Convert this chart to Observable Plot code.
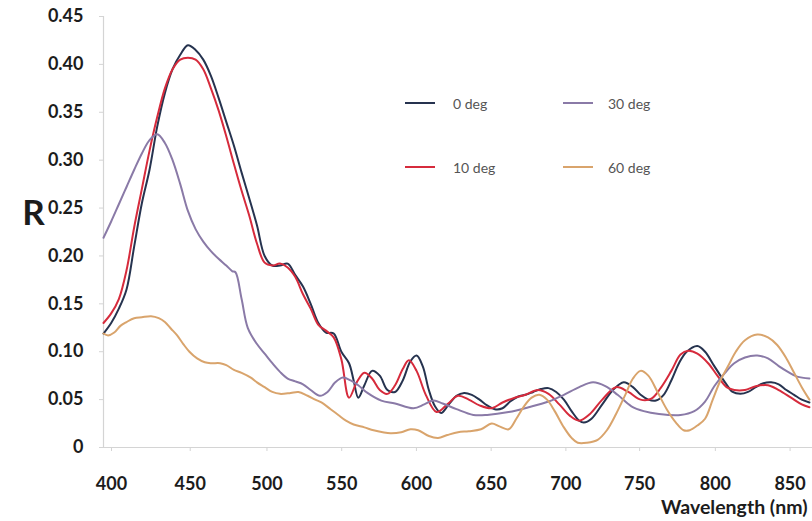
<!DOCTYPE html>
<html>
<head>
<meta charset="utf-8">
<script src="https://cdn.jsdelivr.net/npm/d3@7"></script>
<script src="https://cdn.jsdelivr.net/npm/@observablehq/plot@0.6"></script>
<style>
  html, body { margin: 0; padding: 0; background: #fff; }
  #wrap { position: relative; width: 812px; height: 521px; font-family: Lato, "Open Sans", sans-serif; }
  .leg { position: absolute; display: flex; align-items: center; font-size: 14px; color: #555; white-space: nowrap; }
  .leg i { display: inline-block; width: 30px; height: 2.4px; }
</style>
</head>
<body>
<div id="wrap"></div>
<script>
// ---- data ----
const seriesNames = ["0 deg", "10 deg", "30 deg", "60 deg"];
const seriesColors = ["#26334f", "#d62b3c", "#8a7aa7", "#d9a46c"];

const xTicks = [400, 450, 500, 550, 600, 650, 700, 750, 800, 850];
const yTicks = [0, 0.05, 0.10, 0.15, 0.20, 0.25, 0.30, 0.35, 0.40, 0.45];

const deg0_nm = [400,405,410,415,420,425,430,435,440,445,450,455,460,465,470,475,480,485,490,495,500,505,510,515,520,525,530,535,540,545,550,555,560,563,566,570,575,580,585,590,595,600,604,608,612,616,620,625,630,635,640,645,650,655,660,665,670,675,680,685,690,695,700,705,710,713,718,725,732,739,745,750,755,760,765,770,775,780,787,792,798,805,810,815,820,825,830,835,840,845,850,855,860];
const deg0_R = [0.119,0.13,0.145,0.165,0.21,0.255,0.29,0.335,0.37,0.395,0.41,0.42,0.415,0.405,0.388,0.365,0.34,0.315,0.287,0.26,0.232,0.2,0.19,0.19,0.192,0.18,0.168,0.15,0.13,0.12,0.119,0.1,0.088,0.07,0.052,0.065,0.08,0.075,0.06,0.058,0.07,0.09,0.096,0.085,0.06,0.043,0.036,0.045,0.054,0.057,0.055,0.05,0.044,0.04,0.041,0.048,0.053,0.055,0.058,0.061,0.062,0.058,0.05,0.038,0.028,0.026,0.03,0.045,0.06,0.068,0.063,0.055,0.05,0.049,0.055,0.07,0.088,0.1,0.106,0.1,0.085,0.068,0.058,0.056,0.058,0.063,0.067,0.068,0.066,0.06,0.055,0.05,0.047];

const deg10_nm = [400,405,410,415,420,425,430,435,440,445,450,455,460,465,470,475,480,485,490,495,500,505,510,515,520,525,530,535,540,545,550,555,560,565,570,575,580,585,590,595,599,604,610,617,624,631,638,645,653,660,668,675,683,690,697,704,710,717,725,734,742,750,757,763,770,776,781,787,794,800,806,811,818,825,833,840,848,855,860];
const deg10_R = [0.13,0.14,0.155,0.185,0.23,0.27,0.31,0.345,0.375,0.395,0.405,0.407,0.405,0.395,0.375,0.352,0.325,0.296,0.268,0.242,0.213,0.193,0.19,0.192,0.188,0.178,0.16,0.145,0.128,0.122,0.115,0.092,0.052,0.068,0.078,0.072,0.06,0.056,0.065,0.082,0.091,0.08,0.055,0.037,0.045,0.054,0.05,0.044,0.041,0.047,0.052,0.055,0.06,0.056,0.045,0.033,0.028,0.035,0.05,0.063,0.058,0.05,0.051,0.062,0.08,0.097,0.101,0.098,0.088,0.075,0.063,0.06,0.06,0.064,0.065,0.06,0.052,0.045,0.042];

const deg30_nm = [400,405,410,415,420,425,430,435,440,445,450,455,460,465,470,475,480,484,486,490,494,500,505,510,515,520,525,530,535,541,546,551,556,561,566,572,581,590,602,609,615,621,630,641,650,664,677,690,700,710,719,727,735,744,752,762,776,785,792,798,805,811,818,826,833,840,846,852,860];
const deg30_R = [0.219,0.236,0.254,0.272,0.29,0.307,0.321,0.327,0.318,0.3,0.275,0.247,0.228,0.215,0.205,0.197,0.19,0.184,0.183,0.155,0.125,0.108,0.098,0.088,0.079,0.072,0.069,0.066,0.06,0.054,0.058,0.068,0.073,0.07,0.065,0.057,0.049,0.046,0.041,0.045,0.049,0.046,0.04,0.034,0.034,0.037,0.042,0.048,0.055,0.063,0.068,0.064,0.055,0.043,0.038,0.035,0.034,0.038,0.048,0.064,0.078,0.088,0.094,0.096,0.093,0.085,0.079,0.074,0.072];

const deg60_nm = [400,403,407,411,415,420,425,431,436,440,444,448,452,456,461,466,470,476,480,485,490,496,500,505,510,515,522,527,533,538,542,548,553,558,563,570,576,582,587,594,600,605,612,618,624,631,638,646,653,658,664,669,674,679,684,689,694,700,705,709,715,722,728,734,740,745,750,755,761,767,773,778,782,787,792,797,802,807,812,818,826,833,839,845,850,855,860];
const deg60_R = [0.119,0.117,0.12,0.127,0.131,0.135,0.136,0.137,0.135,0.131,0.124,0.117,0.108,0.1,0.093,0.089,0.088,0.088,0.086,0.081,0.078,0.073,0.068,0.063,0.058,0.056,0.057,0.058,0.054,0.05,0.047,0.04,0.034,0.028,0.024,0.021,0.018,0.016,0.015,0.016,0.019,0.018,0.012,0.01,0.013,0.016,0.017,0.019,0.025,0.022,0.019,0.03,0.043,0.052,0.055,0.05,0.038,0.021,0.01,0.005,0.005,0.008,0.018,0.035,0.055,0.072,0.08,0.075,0.058,0.04,0.026,0.018,0.018,0.023,0.03,0.05,0.07,0.085,0.1,0.112,0.118,0.115,0.107,0.093,0.078,0.063,0.05];

// ---- build table ----
const seriesData = [[deg0_nm, deg0_R], [deg10_nm, deg10_R], [deg30_nm, deg30_R], [deg60_nm, deg60_R]];
const rows = [];
seriesData.forEach(([xs, ys], i) => {
  const n = Math.min(xs.length, ys.length);
  for (let j = 0; j < n; j++) rows.push({nm: xs[j], R: ys[j], series: seriesNames[i]});
});

const fontFam = "Lato, 'Open Sans', sans-serif";
const axisGray = "#d4d4d4";
const textDark = "#1c1c1c";

// horizontal nudges of the x tick labels relative to their ticks (as in the reference)
const xLabelShift = [8, 10, 10, 8, 6, 4, 2, -1, -2, -4];

const xAxisMarks = xTicks.map((t, i) => Plot.axisX({
  ticks: [t], tickSize: 4, tickPadding: 26, stroke: axisGray, fill: textDark,
  fontSize: 18, fontWeight: "bold", dx: xLabelShift[i], label: null, tickFormat: d => String(d)
}));

const chart = Plot.plot({
  width: 812,
  height: 521,
  marginLeft: 103,
  marginRight: 0,
  marginTop: 16,
  marginBottom: 74,
  style: {fontFamily: fontFam, background: "white", overflow: "visible"},
  x: {domain: [400, 862]},
  y: {domain: [0, 0.45]},
  color: {domain: seriesNames, range: seriesColors},
  marks: [
    Plot.ruleX([400], {stroke: axisGray, strokeWidth: 1.2}),
    Plot.ruleY([0], {stroke: axisGray, strokeWidth: 1.2}),
    ...xAxisMarks,
    Plot.axisY({ticks: yTicks, tickSize: 4, tickPadding: 16, stroke: axisGray, fill: textDark,
      fontSize: 18, fontWeight: "bold", label: null,
      tickFormat: d => d === 0 ? "0" : d.toFixed(2)}),
    Plot.line(rows, {x: "nm", y: "R", z: "series", stroke: "series", strokeWidth: 2, curve: "catmull-rom"}),
    Plot.text(["R"], {text: d => d, frameAnchor: "left", dx: -70, dy: -18, fontSize: 35,
      fontWeight: "bold", textAnchor: "middle", fill: textDark}),
    Plot.text(["Wavelength (nm)"], {text: d => d, frameAnchor: "bottom-right", dx: -5, dy: 60,
      fontSize: 19.5, fontWeight: "bold", textAnchor: "end", lineAnchor: "middle", fill: textDark})
  ]
});

const wrap = document.getElementById("wrap");
wrap.appendChild(chart);

// ---- legend (overlay inside the plot area) ----
const legendSlots = [
  {left: 405, top: 103, gap: 18},
  {left: 405, top: 167, gap: 18},
  {left: 563, top: 103, gap: 15},
  {left: 563, top: 167, gap: 15}
];
seriesNames.forEach((name, i) => {
  const s = legendSlots[i];
  const el = document.createElement("div");
  el.className = "leg";
  el.style.left = s.left + "px";
  el.style.top = (s.top - 10) + "px";
  el.style.height = "20px";
  const sw = document.createElement("i");
  sw.style.background = seriesColors[i];
  sw.style.marginRight = s.gap + "px";
  el.appendChild(sw);
  el.appendChild(document.createTextNode(name));
  wrap.appendChild(el);
});
</script>
</body>
</html>
